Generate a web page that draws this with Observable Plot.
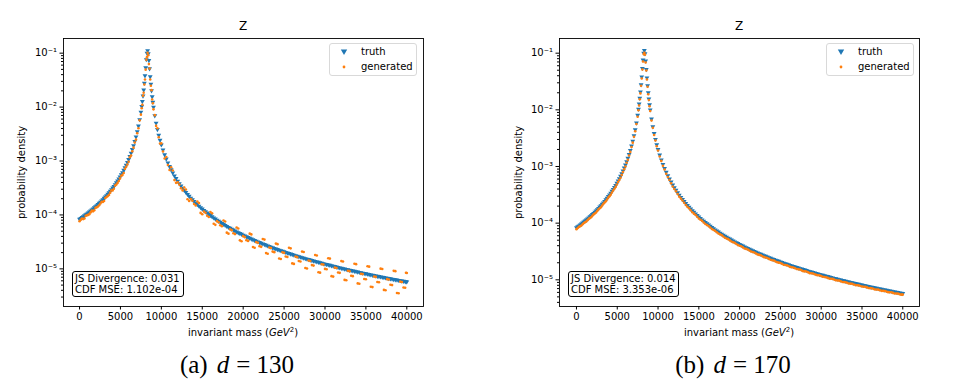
<!DOCTYPE html>
<html>
<head>
<meta charset="utf-8">
<script src="https://cdn.jsdelivr.net/npm/d3@7"></script>
<script src="https://cdn.jsdelivr.net/npm/@observablehq/plot@0.6"></script>
<style>
  html, body { margin: 0; padding: 0; background: #fff; }
  body { width: 960px; height: 384px; overflow: hidden; position: relative; font-family: "DejaVu Sans", sans-serif; color: #000; }
  .abs { position: absolute; }
  .title { font-size: 12px; transform: translateX(-50%); white-space: nowrap; }
  .xlabel { font-size: 10px; transform: translateX(-50%); white-space: nowrap; }
  .legend { border: 1px solid #d9d9d9; border-radius: 3px; background: rgba(255,255,255,0.85); box-sizing: border-box; }
  .legend span { position: absolute; font-size: 10px; line-height: 12px; white-space: nowrap; }
  .legend svg { position: absolute; }
  .stats { border: 1px solid #000; border-radius: 3px; background: #fff; box-sizing: border-box; font-size: 10px; line-height: 11px; padding: 0.5px 0 0 2px; white-space: nowrap; }
  .caption { font-family: "Liberation Serif", "DejaVu Serif", serif; font-size: 25px; transform: translateX(-50%); white-space: nowrap; line-height: 28px; }
  .caption i { margin: 0 7px 0 9px; }
</style>
</head>
<body>
<div id="root"></div>
<script>
// ---------- data ----------
// main sample of bins
const massGeV2 = [
  0,300,600,900,1200,1500,1800,2100,2400,2700,3000,3300,3600,3900,4200,4500,4800,5100,5400,5700,6000,
  6150,6300,6450,6600,6750,6900,7050,7200,7350,7500,
  7600,7680,7760,7840,7920,8000,8080,8160,8240,8320,8400,8480,8560,8640,8720,8800,8880,8960,9040,
  9200,9360,9520,9680,9840,10000,10200,10400,10600,10800,11000,
  11400,11800,12200,12600,13000,13400,13800,14200,14600,15000,15400,15800,16200,16600,17000,17400,17800,18200,18600,19000,
  19400,19800,20200,20600,21000,21400,21800,22200,22600,23000,23400,23800,24200,24600,25000,25400,25800,26200,26600,27000,
  27400,27800,28200,28600,29000,29400,29800,30200,30600,31000,31400,31800,32200,32600,33000,33400,33800,34200,34600,35000,
  35400,35800,36200,36600,37000,37400,37800,38200,38600,39000,39400,39800,40000
];
const truth = [
  8.23e-5,8.86e-5,9.56e-5,1.035e-4,1.124e-4,1.225e-4,1.34e-4,1.472e-4,1.625e-4,1.803e-4,2.012e-4,2.259e-4,2.555e-4,2.913e-4,3.352e-4,3.898e-4,4.589e-4,5.481e-4,6.66e-4,8.264e-4,1.052e-3,
  1.202e-3,1.385e-3,1.613e-3,1.903e-3,2.277e-3,2.772e-3,3.447e-3,4.397e-3,5.793e-3,7.953e-3,
  0.01011,0.01252,0.01583,0.02053,0.0274,0.03771,0.05322,0.07513,0.09922,0.11,0.09653,0.07209,0.05094,0.03618,0.02639,0.01984,0.01535,0.01217,0.009862,
  6.819e-3,4.978e-3,3.787e-3,2.973e-3,2.395e-3,1.97e-3,1.58e-3,1.294e-3,1.08e-3,9.14e-4,7.84e-4,
  5.95e-4,4.67e-4,3.76e-4,3.09e-4,2.59e-4,2.2e-4,1.89e-4,1.64e-4,1.44e-4,1.27e-4,1.13e-4,1.015e-4,9.15e-5,8.29e-5,7.54e-5,6.89e-5,6.33e-5,5.82e-5,5.38e-5,4.99e-5,
  4.63e-5,4.32e-5,4.03e-5,3.77e-5,3.54e-5,3.32e-5,3.13e-5,2.95e-5,2.79e-5,2.64e-5,2.5e-5,2.37e-5,2.26e-5,2.15e-5,2.05e-5,1.95e-5,1.86e-5,1.78e-5,1.7e-5,1.63e-5,
  1.56e-5,1.5e-5,1.44e-5,1.38e-5,1.33e-5,1.28e-5,1.23e-5,1.19e-5,1.15e-5,1.11e-5,1.07e-5,1.03e-5,9.98e-6,9.65e-6,9.34e-6,9.05e-6,8.77e-6,8.5e-6,8.24e-6,8.0e-6,
  7.76e-6,7.54e-6,7.32e-6,7.12e-6,6.92e-6,6.73e-6,6.55e-6,6.38e-6,6.21e-6,6.05e-6,5.89e-6,5.74e-6,5.67e-6
];
const generatedD130 = [
  7.65e-5,8.59e-5,8.6e-5,9.83e-5,1.034e-4,1.2e-4,1.219e-4,1.384e-4,1.511e-4,1.749e-4,1.811e-4,2.146e-4,2.351e-4,2.855e-4,3.05e-4,3.664e-4,4.268e-4,5.317e-4,5.994e-4,7.851e-4,9.68e-4,
  1.178e-3,1.26e-3,1.516e-3,1.77e-3,2.209e-3,2.495e-3,3.275e-3,4.045e-3,5.677e-3,7.237e-3,
  0.0095,0.01102,0.0163,0.01848,0.0263,0.03243,0.04949,0.07513,0.08434,0.1012,0.0917,0.06272,0.05196,0.03256,0.02481,0.02063,0.01382,0.0118,0.009073,
  7.092e-3,4.48e-3,4.052e-3,2.765e-3,2.108e-3,2.128e-3,1.501e-3,1.113e-3,1.188e-3,8.41e-4,6.82e-4,
  6.69e-4,3.94e-4,3.65e-4,2.85e-4,2.96e-4,1.81e-4,1.83e-4,1.5e-4,1.67e-4,1.03e-4,1.1e-4,9.16e-5,1.077e-4,6.55e-5,7.32e-5,6.16e-5,7.57e-5,4.5e-5,5.22e-5,4.41e-5,
  5.62e-5,3.26e-5,3.91e-5,3.3e-5,4.36e-5,2.46e-5,3.04e-5,2.56e-5,3.49e-5,1.91e-5,2.43e-5,2.04e-5,2.87e-5,1.52e-5,1.98e-5,1.66e-5,2.4e-5,1.235e-5,1.65e-5,1.37e-5,
  2.05e-5,1.018e-5,1.4e-5,1.15e-5,1.77e-5,8.5e-6,1.2e-5,9.81e-6,1.55e-5,7.19e-6,1.036e-5,8.43e-6,1.37e-5,6.14e-6,9.06e-6,7.32e-6,1.222e-5,5.29e-6,7.99e-6,6.4e-6,
  1.098e-5,4.59e-6,7.1e-6,5.64e-6,9.94e-6,4.01e-6,6.35e-6,5.0e-6,9.06e-6,3.53e-6,5.72e-6,4.46e-6,8.4e-6
];
const generatedD170 = [
  7.82e-5,8.59e-5,9.08e-5,1.004e-4,1.068e-4,1.188e-4,1.273e-4,1.428e-4,1.544e-4,1.749e-4,1.911e-4,2.191e-4,2.427e-4,2.826e-4,3.184e-4,3.781e-4,4.36e-4,5.317e-4,6.327e-4,8.016e-4,9.99e-4,
  1.166e-3,1.316e-3,1.565e-3,1.808e-3,2.209e-3,2.633e-3,3.344e-3,4.177e-3,5.619e-3,7.555e-3,
  0.009807,0.01189,0.01536,0.0195,0.02658,0.03582,0.05162,0.07137,0.09624,0.1012,0.09363,0.06849,0.04941,0.03437,0.0256,0.01885,0.01489,0.01156,0.009566,
  6.478e-3,4.829e-3,3.598e-3,2.884e-3,2.275e-3,1.911e-3,1.501e-3,1.255e-3,1.026e-3,8.87e-4,7.45e-4,
  5.77e-4,4.435e-4,3.647e-4,2.937e-4,2.51e-4,2.088e-4,1.832e-4,1.56e-4,1.397e-4,1.209e-4,1.099e-4,9.64e-5,8.88e-5,7.88e-5,7.31e-5,6.55e-5,6.14e-5,5.53e-5,5.22e-5,4.74e-5,
  4.49e-5,4.1e-5,3.91e-5,3.58e-5,3.43e-5,3.16e-5,3.04e-5,2.81e-5,2.71e-5,2.51e-5,2.43e-5,2.26e-5,2.19e-5,2.04e-5,1.98e-5,1.85e-5,1.81e-5,1.69e-5,1.65e-5,1.55e-5,
  1.52e-5,1.42e-5,1.4e-5,1.31e-5,1.29e-5,1.22e-5,1.2e-5,1.13e-5,1.11e-5,1.05e-5,1.04e-5,9.81e-6,9.68e-6,9.17e-6,9.06e-6,8.6e-6,8.5e-6,8.07e-6,7.99e-6,7.6e-6,
  7.53e-6,7.16e-6,7.1e-6,6.76e-6,6.71e-6,6.39e-6,6.35e-6,6.06e-6,6.02e-6,5.75e-6,5.71e-6,5.45e-6,5.5e-6
];
// in-between bins (the curve is sampled densely in the reference)
const massGeV2Mid = [
  150,450,750,1050,1350,1650,1950,2250,2550,2850,3150,3450,3750,4050,4350,4650,4950,5250,5550,5850,
  11200,11600,12000,12400,12800,13200,13600,14000,14400,14800,15200,15600,16000,16400,16800,17200,17600,18000,18400,18800,
  19200,19600,20000,20400,20800,21200,21600,22000,22400,22800,23200,23600,24000,24400,24800,25200,25600,26000,26400,26800,
  27200,27600,28000,28400,28800,29200,29600,30000,30400,30800,31200,31600,32000,32400,32800,33200,33600,34000,34400,34800,
  35200,35600,36000,36400,36800,37200,37600,38000,38400,38800,39200,39600,39900
];
const truthMid = [
  8.53e-5,9.2e-5,9.94e-5,1.078e-4,1.173e-4,1.28e-4,1.404e-4,1.546e-4,1.711e-4,1.903e-4,2.13e-4,2.401e-4,2.726e-4,3.121e-4,3.61e-4,4.223e-4,5.006e-4,6.028e-4,7.398e-4,9.292e-4,
  6.8e-4,5.25e-4,4.18e-4,3.4e-4,2.82e-4,2.38e-4,2.03e-4,1.76e-4,1.54e-4,1.35e-4,1.2e-4,1.072e-4,9.63e-5,8.7e-5,7.9e-5,7.21e-5,6.6e-5,6.07e-5,5.6e-5,5.18e-5,
  4.8e-5,4.47e-5,4.17e-5,3.9e-5,3.65e-5,3.43e-5,3.23e-5,3.04e-5,2.87e-5,2.71e-5,2.57e-5,2.44e-5,2.31e-5,2.2e-5,2.1e-5,2.0e-5,1.91e-5,1.82e-5,1.74e-5,1.67e-5,
  1.6e-5,1.53e-5,1.47e-5,1.41e-5,1.36e-5,1.31e-5,1.26e-5,1.21e-5,1.17e-5,1.13e-5,1.09e-5,1.05e-5,1.015e-5,9.82e-6,9.5e-6,9.19e-6,8.91e-6,8.63e-6,8.37e-6,8.12e-6,
  7.88e-6,7.65e-6,7.43e-6,7.22e-6,7.02e-6,6.82e-6,6.64e-6,6.46e-6,6.29e-6,6.13e-6,5.97e-6,5.82e-6,5.71e-6
];
const generatedD130Mid = [
  8.11e-5,8.37e-5,9.64e-5,1.002e-4,1.114e-4,1.165e-4,1.362e-4,1.438e-4,1.625e-4,1.732e-4,2.066e-4,2.233e-4,2.589e-4,2.84e-4,3.502e-4,3.927e-4,4.755e-4,5.485e-4,7.176e-4,8.641e-4,
  7.65e-4,4.43e-4,4.05e-4,3.13e-4,3.22e-4,1.96e-4,1.97e-4,1.6e-4,1.78e-4,1.09e-4,1.16e-4,9.67e-5,1.134e-4,6.88e-5,7.67e-5,6.44e-5,7.89e-5,4.69e-5,5.43e-5,4.58e-5,
  5.83e-5,3.38e-5,4.04e-5,3.41e-5,4.5e-5,2.54e-5,3.13e-5,2.64e-5,3.59e-5,1.96e-5,2.49e-5,2.09e-5,2.94e-5,1.56e-5,2.03e-5,1.7e-5,2.46e-5,1.263e-5,1.69e-5,1.4e-5,
  2.09e-5,1.04e-5,1.425e-5,1.175e-5,1.81e-5,8.67e-6,1.219e-5,9.99e-6,1.578e-5,7.32e-6,1.054e-5,8.58e-6,1.394e-5,6.24e-6,9.21e-6,7.44e-6,1.241e-5,5.37e-6,8.12e-6,6.49e-6,
  1.115e-5,4.66e-6,7.21e-6,5.72e-6,1.008e-5,4.07e-6,6.44e-6,5.07e-6,9.18e-6,3.57e-6,5.79e-6,4.52e-6,8.45e-6
];
const generatedD170Mid = [
  8.19e-5,8.83e-5,9.54e-5,1.035e-4,1.126e-4,1.229e-4,1.348e-4,1.484e-4,1.642e-4,1.827e-4,2.045e-4,2.305e-4,2.617e-4,2.997e-4,3.466e-4,4.054e-4,4.805e-4,5.787e-4,7.102e-4,8.92e-4,
  6.53e-4,5.04e-4,4.01e-4,3.27e-4,2.71e-4,2.29e-4,1.95e-4,1.69e-4,1.47e-4,1.3e-4,1.15e-4,1.03e-4,9.25e-5,8.36e-5,7.59e-5,6.92e-5,6.34e-5,5.82e-5,5.37e-5,4.97e-5,
  4.61e-5,4.29e-5,4.0e-5,3.74e-5,3.51e-5,3.29e-5,3.1e-5,2.92e-5,2.75e-5,2.6e-5,2.47e-5,2.34e-5,2.22e-5,2.11e-5,2.01e-5,1.92e-5,1.83e-5,1.75e-5,1.67e-5,1.6e-5,
  1.53e-5,1.47e-5,1.41e-5,1.355e-5,1.303e-5,1.253e-5,1.207e-5,1.163e-5,1.12e-5,1.081e-5,1.044e-5,1.008e-5,9.74e-6,9.42e-6,9.12e-6,8.83e-6,8.55e-6,8.28e-6,8.03e-6,7.79e-6,
  7.56e-6,7.34e-6,7.13e-6,6.93e-6,6.74e-6,6.55e-6,6.37e-6,6.2e-6,6.04e-6,5.88e-6,5.73e-6,5.58e-6,5.48e-6
];
const xTicks = [0,5000,10000,15000,20000,25000,30000,35000,40000];
const yMajorTicks = [1e-5,1e-4,1e-3,1e-2,1e-1];
const yMinorMultipliers = [2,3,4,5,6,7,8,9];
const yMinorDecades = [1e-6,1e-5,1e-4,1e-3,1e-2,1e-1];
const seriesNames = ["truth", "generated"];
const panelTitles = ["Z", "Z"];
const panelCaptions = [["(a)", "d", "= 130"], ["(b)", "d", "= 170"]];
const statsTexts = [["JS Divergence: 0.031", "CDF MSE: 1.102e-04"], ["JS Divergence: 0.014", "CDF MSE: 3.353e-06"]];
const BLUE = "#1f77b4", ORANGE = "#ff7f0e";

// ---------- helpers ----------
const supMap = {"-":"\u207b","0":"\u2070","1":"\u00b9","2":"\u00b2","3":"\u00b3","4":"\u2074","5":"\u2075","6":"\u2076","7":"\u2077","8":"\u2078","9":"\u2079"};
const logFmt = d => "10" + String(Math.round(Math.log10(d))).split("").map(c => supMap[c]).join("");
const triDown = {
  draw(ctx, size) {
    const r = Math.sqrt(size / Math.PI);
    ctx.moveTo(-r * 1.05, -r * 0.75);
    ctx.lineTo(r * 1.05, -r * 0.75);
    ctx.lineTo(0, r * 1.05);
    ctx.closePath();
  }
};
const toRows = (xs, ys) => xs.map((x, i) => ({x, y: ys[i]}));
const rowsTruth = toRows(massGeV2, truth).concat(toRows(massGeV2Mid, truthMid));
const rowsGenA = toRows(massGeV2, generatedD130).concat(toRows(massGeV2Mid, generatedD130Mid));
const rowsGenB = toRows(massGeV2, generatedD170).concat(toRows(massGeV2Mid, generatedD170Mid));
const minorTicks = yMinorDecades.flatMap(d => yMinorMultipliers.map(m => +(d * m).toPrecision(3)));

function makePanel(cfg) {
  const [y0, y1] = cfg.yDomain;
  const minor = minorTicks.filter(t => t > y0 && t < y1);
  return Plot.plot({
    width: cfg.width, height: 345,
    marginLeft: cfg.ml, marginRight: cfg.mr, marginTop: 38, marginBottom: 39,
    style: {fontFamily: "DejaVu Sans", fontSize: "10px", color: "#000", background: "transparent", overflow: "visible"},
    x: {type: "linear", domain: cfg.xDomain, label: null},
    y: {type: "log", domain: cfg.yDomain, label: null},
    marks: [
      Plot.dot(rowsTruth, {x: "x", y: "y", symbol: triDown, r: 2.3, fill: BLUE, stroke: "none"}),
      Plot.dot(cfg.gen, {x: "x", y: "y", r: 1.3, fill: ORANGE, stroke: "none"}),
      Plot.axisX({ticks: xTicks, tickSize: 3.5, tickPadding: 3, tickFormat: d => String(d), label: null, fontSize: 10}),
      Plot.axisY({ticks: yMajorTicks, tickSize: 3.5, tickPadding: 3, tickFormat: logFmt, fontSize: 10,
                  label: "probability density", labelAnchor: "center", labelArrow: "none", labelOffset: cfg.labelOffset}),
      Plot.axisY({ticks: minor, tickSize: 2, tickFormat: () => "", label: null}),
      Plot.frame({stroke: "#000", strokeWidth: 0.9})
    ]
  });
}

const root = document.getElementById("root");
function place(el, left, top) { el.classList.add("abs"); el.style.left = left + "px"; el.style.top = top + "px"; root.appendChild(el); return el; }
function div(cls, html) { const d = document.createElement("div"); d.className = cls; d.innerHTML = html; return d; }

const panels = [
  {left: 0, width: 480, ml: 63, mr: 57, xDomain: [-1960, 42040], yDomain: [Math.pow(10, -5.698), Math.pow(10, -0.728)], gen: rowsGenA, labelOffset: 46,
   frameL: 63, frameR: 423, legend: [329, 43, 88], stats: [72, 271, 112]},
  {left: 497, width: 463, ml: 62, mr: 41, xDomain: [-2080, 42050], yDomain: [Math.pow(10, -5.471), Math.pow(10, -0.741)], gen: rowsGenB, labelOffset: 45,
   frameL: 559, frameR: 919, legend: [826, 43, 88], stats: [568, 271, 111]}
];

panels.forEach((p, k) => {
  const svg = makePanel(p);
  svg.style.position = "absolute";
  svg.style.left = p.left + "px";
  svg.style.top = "0px";
  root.appendChild(svg);
  const cx = (p.frameL + p.frameR) / 2;
  place(div("title", panelTitles[k]), cx, 19);
  place(div("xlabel", "invariant mass (<i>GeV</i><sup style=\"font-size:7px\">2</sup>)"), cx, 326);
  const [lx, ly, lw] = p.legend;
  const lg = place(div("legend", ""), lx, ly);
  lg.style.width = lw + "px"; lg.style.height = "33px";
  lg.innerHTML =
    `<svg width="8" height="8" style="left:10px;top:3.5px"><path d="M0.8,1.6 L7.2,1.6 L4,7 Z" fill="${BLUE}"/></svg>` +
    `<span style="left:31px;top:1.5px">${seriesNames[0]}</span>` +
    `<svg width="8" height="8" style="left:10px;top:18.5px"><circle cx="4" cy="4" r="1.4" fill="${ORANGE}"/></svg>` +
    `<span style="left:31px;top:16.5px">${seriesNames[1]}</span>`;
  const [sx, sy, sw] = p.stats;
  const st = place(div("stats", statsTexts[k].join("<br>")), sx, sy);
  st.style.width = sw + "px"; st.style.height = "26px";
  const c = panelCaptions[k];
  place(div("caption", `${c[0]}<i>${c[1]}</i>${c[2]}`), cx - 6, 351);
});
</script>
</body>
</html>
